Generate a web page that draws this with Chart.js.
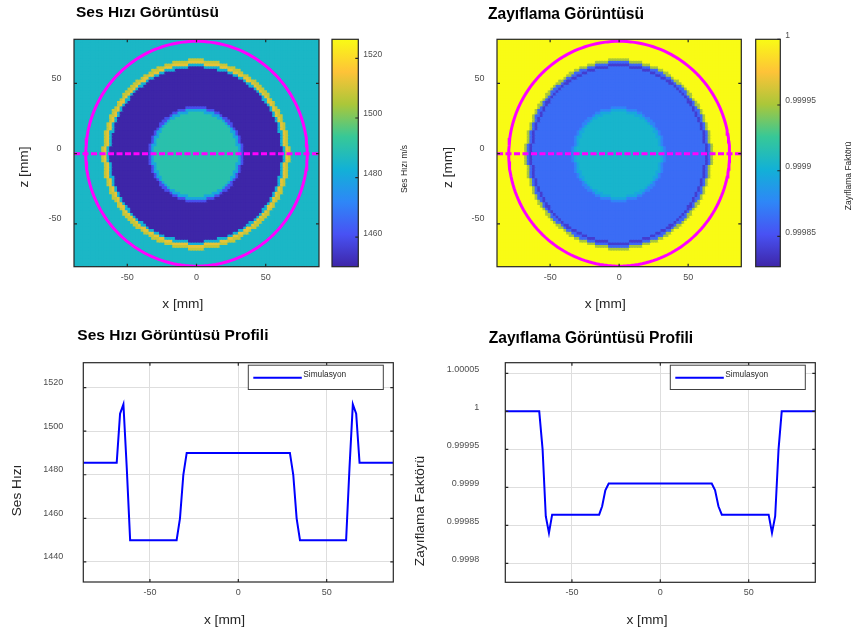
<!DOCTYPE html>
<html lang="tr">
<head>
<meta charset="utf-8">
<title>Ses Hızı ve Zayıflama Görüntüleri</title>
<script src="https://cdn.jsdelivr.net/npm/chart.js@4.4.1/dist/chart.umd.min.js"></script>
<style>
  html, body { margin: 0; padding: 0; background: #fff; }
  #fig { position: relative; width: 857px; height: 637px; overflow: hidden; }
  #fig canvas { position: absolute; left: 0; top: 0; }
</style>
</head>
<body>
<div id="fig">
  <canvas id="ssImg" width="857" height="637"></canvas>
  <canvas id="ssBar" width="857" height="637"></canvas>
  <canvas id="atImg" width="857" height="637"></canvas>
  <canvas id="atBar" width="857" height="637"></canvas>
  <canvas id="ssProf" width="857" height="637"></canvas>
  <canvas id="atProf" width="857" height="637"></canvas>
</div>
<script>
// profiles along z = 0, x in mm
const ssX = [-87.7, -68.8, -66.9, -65.0, -63.1, -61.2, -34.9, -33.0, -31.1, -29.2,
             29.2, 31.1, 33.0, 34.9, 61.0, 62.9, 64.8, 66.7, 68.6, 87.7];
const ssV = [1485.5, 1485.5, 1508, 1512.3, 1483, 1450, 1450, 1460, 1480, 1490,
             1490, 1480, 1460, 1450, 1450, 1483, 1512.3, 1508, 1485.5, 1485.5];

const atX = [-87.7, -68.5, -66.6, -64.8, -63.0, -61.2, -34.6, -32.9, -31.1, -29.2,
             29.1, 31.0, 32.9, 34.8, 61.3, 63.2, 65.0, 66.9, 68.7, 87.7];
const atV = [1.0, 1.0, 0.99995, 0.999862, 0.99984, 0.999864, 0.999864, 0.999875, 0.999896, 0.999905,
             0.999905, 0.999896, 0.999875, 0.999864, 0.999864, 0.99984, 0.999862, 0.99995, 1.0, 1.0];

// ticks
const mmTicks = [-50, 0, 50];
const mmTickLabels = ['-50', '0', '50'];
const ssTicks = [1440, 1460, 1480, 1500, 1520];
const ssTickLabels = ['1440', '1460', '1480', '1500', '1520'];
const ssBarTicks = [1460, 1480, 1500, 1520];
const ssBarLabels = ['1460', '1480', '1500', '1520'];
const atTicks = [0.9998, 0.99985, 0.9999, 0.99995, 1, 1.00005];
const atTickLabels = ['0.9998', '0.99985', '0.9999', '0.99995', '1', '1.00005'];
const atBarTicks = [0.99985, 0.9999, 0.99995, 1];
const atBarLabels = ['0.99985', '0.9999', '0.99995', '1'];

// colour limits
const ssRange = [1450.1, 1526.4];
const atRange = [0.999827, 1.0];

const ringRadius = 80;   // mm, transducer ring
const cellStep = 1.9;    // mm, image pixel pitch

// parula key colours
const parula = [
  [62, 38, 168], [72, 82, 244], [46, 135, 247], [18, 177, 214],
  [55, 200, 151], [171, 199, 57], [254, 195, 56], [249, 251, 21]
];

const W = 857, H = 637;
const FONT = "'Liberation Sans', Arial, Helvetica, sans-serif";
Chart.defaults.font.family = FONT;

function parulaColor(t) {
  t = Math.min(1, Math.max(0, t));
  const p = t * (parula.length - 1);
  const i = Math.min(Math.floor(p), parula.length - 2);
  const f = p - i;
  const c = parula[i].map((v, k) => Math.round(v + (parula[i + 1][k] - v) * f));
  return `rgb(${c[0]},${c[1]},${c[2]})`;
}

function nearest(xs, vs, r) {
  let best = 0;
  for (let i = 1; i < xs.length; i++) {
    if (Math.abs(xs[i] - r) < Math.abs(xs[best] - r)) best = i;
  }
  return vs[best];
}

// radially symmetric phantom sampled from the z = 0 profile
function buildImage(xs, vs, range) {
  const pts = [], colors = [];
  for (let j = -43; j < 43; j++) {
    for (let i = -47; i < 47; i++) {
      const x = (i + 0.5) * cellStep, z = (j + 0.5) * cellStep;
      const v = nearest(xs, vs, Math.hypot(x, z));
      pts.push({ x, y: z });
      colors.push(parulaColor((v - range[0]) / (range[1] - range[0])));
    }
  }
  return { pts, colors };
}

const ring = [];
for (let k = 0; k <= 180; k++) {
  const a = k / 180 * 2 * Math.PI;
  ring.push({ x: ringRadius * Math.cos(a), y: ringRadius * Math.sin(a) });
}
const profileLine = [{ x: -88.5, y: 0 }, { x: 88.5, y: 0 }];

function pad(a, left, bottom, right) {
  return { left: a.l - left, top: a.t, right: W - a.r - (right || 0), bottom: H - a.b - bottom };
}

function valueAxis(o) {
  const horizontal = o.position === 'bottom';
  return {
    type: 'linear', position: o.position, min: o.min, max: o.max,
    afterBuildTicks: s => { s.ticks = o.ticks.map(v => ({ value: v })); },
    afterFit: s => { if (horizontal) s.height = o.size; else s.width = o.size; },
    ticks: {
      autoSkip: false, maxRotation: 0, minRotation: 0,
      padding: o.pad, labelOffset: o.offset || 0,
      font: { size: o.font || 9 }, color: '#4d4d4d',
      callback: (v, i) => o.labels[i]
    },
    grid: { display: !!o.grid, color: '#dedede', lineWidth: 1, drawTicks: false },
    border: { display: false }
  };
}

// axes box with inward tick marks
function frame(sides) {
  return {
    id: 'frame',
    afterDatasetsDraw(chart) {
      const { ctx, chartArea: a, scales } = chart;
      const len = 3;
      ctx.save();
      ctx.strokeStyle = '#262626';
      ctx.lineWidth = 1.2;
      ctx.beginPath();
      if (sides.x) {
        for (const t of scales.x.ticks) {
          const px = scales.x.getPixelForValue(t.value);
          ctx.moveTo(px, a.bottom); ctx.lineTo(px, a.bottom - len);
          ctx.moveTo(px, a.top); ctx.lineTo(px, a.top + len);
        }
      }
      for (const t of scales.y.ticks) {
        const py = scales.y.getPixelForValue(t.value);
        if (sides.left) { ctx.moveTo(a.left, py); ctx.lineTo(a.left + len, py); }
        if (sides.right) { ctx.moveTo(a.right, py); ctx.lineTo(a.right - len, py); }
      }
      ctx.stroke();
      ctx.strokeRect(a.left, a.top, a.right - a.left, a.bottom - a.top);
      ctx.restore();
    }
  };
}

function captions(items) {
  return {
    id: 'captions',
    afterDraw(chart) {
      const ctx = chart.ctx;
      for (const c of items) {
        ctx.save();
        ctx.font = `${c.bold ? 'bold ' : ''}${c.size}px ${FONT}`;
        ctx.fillStyle = c.color || '#262626';
        ctx.textAlign = c.align || 'center';
        ctx.textBaseline = 'middle';
        ctx.translate(c.x, c.y);
        if (c.rot) ctx.rotate(-Math.PI / 2);
        ctx.fillText(c.text, 0, 0);
        ctx.restore();
      }
    }
  };
}

function legendBox() {
  return {
    id: 'legendBox',
    afterDatasetsDraw(chart) {
      const { ctx, chartArea: a } = chart;
      const ds = chart.data.datasets[0];
      const w = 135, h = 24.3;
      const x0 = a.right - 10 - w, y0 = a.top + 2.5;
      ctx.save();
      ctx.fillStyle = '#fff';
      ctx.fillRect(x0, y0, w, h);
      ctx.strokeStyle = '#404040';
      ctx.lineWidth = 1;
      ctx.strokeRect(x0, y0, w, h);
      ctx.strokeStyle = ds.borderColor;
      ctx.lineWidth = 2;
      ctx.beginPath();
      ctx.moveTo(x0 + 5, y0 + 12.5);
      ctx.lineTo(x0 + 53.5, y0 + 12.5);
      ctx.stroke();
      ctx.font = `8.3px ${FONT}`;
      ctx.fillStyle = '#262626';
      ctx.textAlign = 'left';
      ctx.textBaseline = 'middle';
      ctx.fillText(ds.label, x0 + 55, y0 + 9.5);
      ctx.restore();
    }
  };
}

const common = {
  responsive: false,
  animation: false,
  events: [],
  plugins: { legend: { display: false }, tooltip: { enabled: false }, title: { display: false } }
};

function imageChart(id, img, area, caps) {
  return new Chart(document.getElementById(id), {
    type: 'scatter',
    data: {
      datasets: [
        { data: profileLine, showLine: true, borderColor: '#ff00ff', borderWidth: 3,
          borderDash: [6, 2.5], pointRadius: 0, clip: 0 },
        { data: ring, showLine: true, borderColor: '#ff00ff', borderWidth: 3, pointRadius: 0, clip: 0 },
        { data: img.pts, pointStyle: 'rect', pointBackgroundColor: img.colors, pointBorderWidth: 0,
          // cells overlap a little so no seams show between them
          pointRadius: c => {
            const s = c.chart.scales.x;
            const px = Math.abs(s.getPixelForValue(cellStep) - s.getPixelForValue(0));
            return (px + 1.2) / Math.SQRT2;
          },
          clip: 0 }
      ]
    },
    options: {
      ...common,
      layout: { padding: pad(area, 40, 30) },
      scales: {
        x: valueAxis({ position: 'bottom', min: -88.5, max: 88.5, ticks: mmTicks, labels: mmTickLabels, size: 30, pad: 5.2 }),
        y: valueAxis({ position: 'left', min: -80.4, max: 81.4, ticks: mmTicks, labels: mmTickLabels, size: 40, pad: 12.5, offset: -5 })
      }
    },
    plugins: [frame({ x: true, left: true, right: true }), captions(caps)]
  });
}

function colorBar(id, range, ticks, labels, area, caps) {
  return new Chart(document.getElementById(id), {
    type: 'bar',
    data: {
      labels: [''],
      datasets: [{
        data: [range],
        borderWidth: 0, barPercentage: 1, categoryPercentage: 1,
        backgroundColor: c => {
          const { chart } = c;
          if (!chart.chartArea) return '#888';
          const y = chart.scales.y;
          const g = chart.ctx.createLinearGradient(0, y.getPixelForValue(range[0]), 0, y.getPixelForValue(range[1]));
          parula.forEach((p, i) => g.addColorStop(i / (parula.length - 1), `rgb(${p[0]},${p[1]},${p[2]})`));
          return g;
        }
      }]
    },
    options: {
      ...common,
      layout: { padding: pad(area, 0, 0, 40) },
      scales: {
        x: { display: false },
        y: valueAxis({ position: 'right', min: range[0], max: range[1], ticks, labels, size: 40, pad: 5, offset: -4, font: 8.5 })
      }
    },
    plugins: [frame({ right: true }), captions(caps)]
  });
}

function profileChart(id, xs, vs, area, yAxis, caps) {
  return new Chart(document.getElementById(id), {
    type: 'line',
    data: {
      datasets: [{
        label: 'Simulasyon',
        data: xs.map((x, i) => ({ x, y: vs[i] })),
        borderColor: '#0000ff', borderWidth: 2, pointRadius: 0, tension: 0, fill: false
      }]
    },
    options: {
      ...common,
      layout: { padding: pad(area, yAxis.size, 30) },
      scales: {
        x: valueAxis({ position: 'bottom', min: -87.7, max: 87.7, ticks: mmTicks, labels: mmTickLabels, size: 30, pad: 5.3, grid: true }),
        y: valueAxis(Object.assign({ position: 'left', grid: true }, yAxis))
      }
    },
    plugins: [frame({ x: true, left: true, right: true }), legendBox(), captions(caps)]
  });
}

const ssImage = buildImage(ssX, ssV, ssRange);
const atImage = buildImage(atX, atV, atRange);

imageChart('ssImg', ssImage, { l: 74, t: 39.3, r: 319, b: 266.7 }, [
  { text: 'Ses Hızı Görüntüsü', x: 76, y: 12.5, size: 15.5, bold: true, align: 'left', color: '#000' },
  { text: 'z [mm]', x: 24, y: 167, size: 13.7, rot: true },
  { text: 'x [mm]', x: 182.8, y: 304, size: 13.7 }
]);
colorBar('ssBar', ssRange, ssBarTicks, ssBarLabels, { l: 332, t: 39.3, r: 358.3, b: 266.7 }, [
  { text: 'Ses Hızı m/s', x: 405, y: 169, size: 8.5, rot: true }
]);

imageChart('atImg', atImage, { l: 497, t: 39.3, r: 741.3, b: 266.7 }, [
  { text: 'Zayıflama Görüntüsü', x: 488, y: 14.5, size: 15.6, bold: true, align: 'left', color: '#000' },
  { text: 'z [mm]', x: 448, y: 167.5, size: 13.7, rot: true },
  { text: 'x [mm]', x: 605.2, y: 304, size: 13.7 }
]);
colorBar('atBar', atRange, atBarTicks, atBarLabels, { l: 755.7, t: 39.3, r: 780.3, b: 266.7 }, [
  { text: 'Zayıflama Faktörü', x: 849, y: 176, size: 8.5, rot: true }
]);

profileChart('ssProf', ssX, ssV, { l: 83.3, t: 362.7, r: 393.3, b: 582 },
  { min: 1430.8, max: 1531.4, ticks: ssTicks, labels: ssTickLabels, size: 40, pad: 20, offset: -5 }, [
  { text: 'Ses Hızı Görüntüsü Profili', x: 77.3, y: 335.3, size: 15.5, bold: true, align: 'left', color: '#000' },
  { text: 'Ses Hızı', x: 17.5, y: 490.5, size: 13.7, rot: true },
  { text: 'x [mm]', x: 224.5, y: 620, size: 13.7 }
]);

profileChart('atProf', atX, atV, { l: 505.3, t: 362.7, r: 815.3, b: 582.3 },
  { min: 0.999775, max: 1.000064, ticks: atTicks, labels: atTickLabels, size: 60, pad: 26, offset: -3.5 }, [
  { text: 'Zayıflama Görüntüsü Profili', x: 488.7, y: 339, size: 15.6, bold: true, align: 'left', color: '#000' },
  { text: 'Zayıflama Faktörü', x: 420, y: 511, size: 13.7, rot: true },
  { text: 'x [mm]', x: 647, y: 620, size: 13.7 }
]);
</script>
</body>
</html>
